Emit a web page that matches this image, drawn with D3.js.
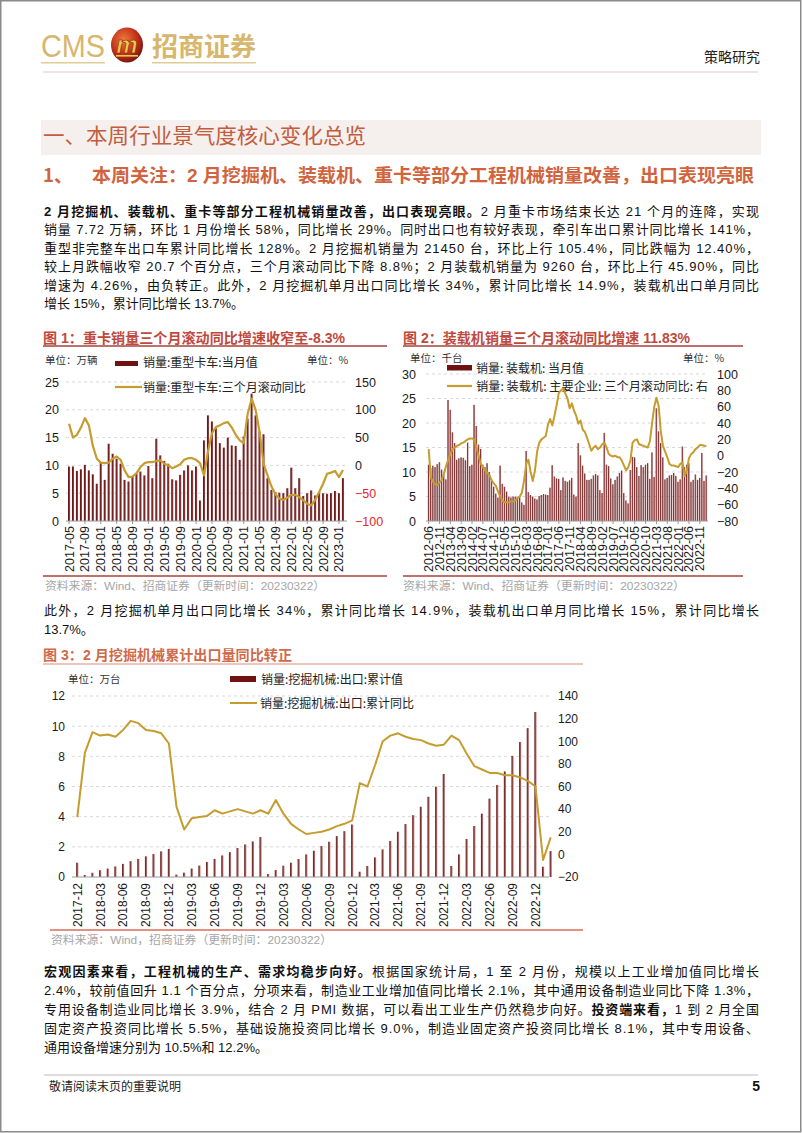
<!DOCTYPE html>
<html><head><meta charset="utf-8">
<script src="https://cdn.jsdelivr.net/npm/d3@7"></script>
<style>
html,body{margin:0;padding:0;background:#fff;}
svg{display:block;}
</style></head><body>
<svg id="page" width="802" height="1133"></svg>
<script>
// ---------------- DATA ----------------
const truckMonths = ["2017-05","2017-06","2017-07","2017-08","2017-09","2017-10","2017-11","2017-12",
"2018-01","2018-02","2018-03","2018-04","2018-05","2018-06","2018-07","2018-08","2018-09","2018-10","2018-11","2018-12",
"2019-01","2019-02","2019-03","2019-04","2019-05","2019-06","2019-07","2019-08","2019-09","2019-10","2019-11","2019-12",
"2020-01","2020-02","2020-03","2020-04","2020-05","2020-06","2020-07","2020-08","2020-09","2020-10","2020-11","2020-12",
"2021-01","2021-02","2021-03","2021-04","2021-05","2021-06","2021-07","2021-08","2021-09","2021-10","2021-11","2021-12",
"2022-01","2022-02","2022-03","2022-04","2022-05","2022-06","2022-07","2022-08","2022-09","2022-10","2022-11","2022-12",
"2023-01","2023-02"];
const truckTicks = ["2017-05","2017-09","2018-01","2018-05","2018-09","2019-01","2019-05","2019-09","2020-01","2020-05","2020-09","2021-01","2021-05","2021-09","2022-01","2022-05","2022-09","2023-01"];
const truckSales = [9.8,9.8,9.0,9.3,10.1,9.1,8.4,6.7,
10.6,7.4,13.9,12.1,11.2,10.3,7.4,7.1,7.9,8.6,8.9,8.2,
9.9,7.7,14.8,11.8,10.8,10.3,7.5,7.3,8.3,9.1,10.0,9.1,
9.8,3.7,14.5,19.0,17.9,16.7,14.0,13.2,15.0,13.6,13.5,11.0,
15.2,18.4,22.9,19.0,16.1,15.6,7.7,5.6,5.2,5.1,5.0,5.9,
9.6,5.9,7.7,4.5,5.0,5.5,4.6,5.2,5.0,4.9,5.0,5.4,
5.0,7.7];
const truckYoY = [75,50,55,68,85,72,35,12,
5,4,5,12,16,10,-9,-21,-20,-14,-3,4,
6,6,8,9,3,0,-5,-2,2,10,13,13,
10,4,-18,25,58,69,72,76,78,68,55,45,
40,93,120,100,60,3,-18,-38,-52,-60,-62,-58,
-53,-53,-57,-63,-69,-72,-62,-48,-33,-15,-13,-10,
-21,-8.3];

const loaderMonths = ["2012-06","2012-07","2012-08","2012-09","2012-10","2012-11","2012-12",
"2013-01","2013-02","2013-03","2013-04","2013-05","2013-06","2013-07","2013-08","2013-09","2013-10","2013-11","2013-12",
"2014-01","2014-02","2014-03","2014-04","2014-05","2014-06","2014-07","2014-08","2014-09","2014-10","2014-11","2014-12",
"2015-01","2015-02","2015-03","2015-04","2015-05","2015-06","2015-07","2015-08","2015-09","2015-10","2015-11","2015-12",
"2016-01","2016-02","2016-03","2016-04","2016-05","2016-06","2016-07","2016-08","2016-09","2016-10","2016-11","2016-12",
"2017-01","2017-02","2017-03","2017-04","2017-05","2017-06","2017-07","2017-08","2017-09","2017-10","2017-11","2017-12",
"2018-01","2018-02","2018-03","2018-04","2018-05","2018-06","2018-07","2018-08","2018-09","2018-10","2018-11","2018-12",
"2019-01","2019-02","2019-03","2019-04","2019-05","2019-06","2019-07","2019-08","2019-09","2019-10","2019-11","2019-12",
"2020-01","2020-02","2020-03","2020-04","2020-05","2020-06","2020-07","2020-08","2020-09","2020-10","2020-11","2020-12",
"2021-01","2021-02","2021-03","2021-04","2021-05","2021-06","2021-07","2021-08","2021-09","2021-10","2021-11","2021-12",
"2022-01","2022-02","2022-03","2022-04","2022-05","2022-06","2022-07","2022-08","2022-09","2022-10","2022-11","2022-12",
"2023-01","2023-02"];
const loaderTicks = ["2012-06","2012-11","2013-04","2013-09","2014-02","2014-07","2014-12","2015-05","2015-10","2016-03","2016-08","2017-01","2017-06","2017-11","2018-04","2018-09","2019-02","2019-07","2019-12","2020-05","2020-10","2021-03","2021-08","2022-01","2022-06","2022-11"];
const loaderSales = [11.5,10.8,11.3,11.0,11.6,12.0,10.5,
9.5,8.5,24.7,22.7,18.1,15.9,12.5,12.8,13.0,12.9,12.4,16.0,
11.2,11.5,23.7,19.4,15.6,14.7,11.5,11.0,11.8,10.0,8.2,7.0,
5.6,4.8,11.3,7.6,7.0,6.0,5.0,4.8,5.0,5.0,4.9,5.1,
3.8,3.3,14.3,5.9,5.3,5.0,4.6,4.4,5.1,5.3,5.5,5.4,
5.3,6.8,11.4,9.1,8.7,8.6,6.3,8.9,8.2,8.0,8.3,8.8,
5.4,5.0,15.9,13.4,11.3,9.7,8.4,8.4,8.6,9.3,9.6,9.3,
6.3,5.7,18.0,11.5,11.2,8.7,7.5,8.4,9.1,9.8,10.3,5.7,
4.2,3.6,10.4,13.1,13.0,11.0,9.2,11.4,11.0,11.5,11.8,8.6,
14.0,9.0,23.0,18.3,15.9,13.0,8.5,8.8,9.3,9.4,9.8,9.2,
8.0,8.5,15.2,11.0,11.5,11.8,8.0,8.4,9.5,8.4,8.8,13.9,
8.2,9.3];
const loaderYoY = [8,-27,-32,-35,-36,-33,-30,
-22,-13,-5,2,8,10,12,13,15,16,18,20,
21,21,20,10,0,-10,-14,-18,-21,-24,-30,-34,
-37,-44,-50,-55,-57,-57,-57,-56,-56,-55,-52,-50,
-45,-30,-10,-5,-20,-31,-18,5,16,20,22,24,
38,45,37,49,62,77,80,82,76,70,58,64,
55,49,39,43,32,29,22,14,6,10,12,8,
10,14,16,10,2,0,-1,0,-2,-2,-6,-12,
-18,-14,-6,16,19,20,14,13,12,11,10,18,
40,60,71,61,30,12,5,-2,-10,-12,-12,-13,
-14,-10,-8,-25,-18,-3,2,4,8,10,13,13,
12,11.83];

const excavMonths = ["2017-12",
"2018-01","2018-02","2018-03","2018-04","2018-05","2018-06","2018-07","2018-08","2018-09","2018-10","2018-11","2018-12",
"2019-01","2019-02","2019-03","2019-04","2019-05","2019-06","2019-07","2019-08","2019-09","2019-10","2019-11","2019-12",
"2020-01","2020-02","2020-03","2020-04","2020-05","2020-06","2020-07","2020-08","2020-09","2020-10","2020-11","2020-12",
"2021-01","2021-02","2021-03","2021-04","2021-05","2021-06","2021-07","2021-08","2021-09","2021-10","2021-11","2021-12",
"2022-01","2022-02","2022-03","2022-04","2022-05","2022-06","2022-07","2022-08","2022-09","2022-10","2022-11","2022-12",
"2023-01","2023-02"];
const excavTicks = ["2017-12","2018-03","2018-06","2018-09","2018-12","2019-03","2019-06","2019-09","2019-12","2020-03","2020-06","2020-09","2020-12","2021-03","2021-06","2021-09","2021-12","2022-03","2022-06","2022-09","2022-12"];
const excavCum = [0.95,
0.13,0.28,0.45,0.56,0.70,0.87,1.05,1.20,1.37,1.52,1.70,1.86,
0.16,0.29,0.56,0.76,1.00,1.20,1.43,1.65,1.92,2.16,2.36,2.65,
0.20,0.46,0.75,0.95,1.19,1.50,1.74,2.05,2.34,2.71,3.04,3.48,
0.35,0.73,1.30,1.83,2.39,3.00,3.51,4.10,4.66,5.32,5.99,6.83,
0.73,1.50,2.52,3.38,4.20,5.20,6.10,7.00,8.03,8.95,9.87,10.94,
0.68,1.72];
const excavYoY = [33,
90,108,105,106,104,110,118,116,110,109,107,98,
42,22,32,33,34,39,36,38,40,38,36,39,
36,48,36,27,22,18,19,20,22,25,27,30,
63,60,79,100,105,107,104,102,101,98,96,97,
105,101,89,78,75,72,72,70,70,68,65,60,
-5,15];

const truckLeftTicks = [0,5,10,15,20,25];
const truckRightTicks = [-100,-50,0,50,100,150];
const loaderLeftTicks = [0,5,10,15,20,25,30];
const loaderRightTicks = [-80,-60,-40,-20,0,20,40,60,80,100];
const excavLeftTicks = [0,2,4,6,8,10,12];
const excavRightTicks = [-20,0,20,40,60,80,100,120,140];

// ---------------- TEXT ----------------
const para1 = [
 {j:true, parts:[["2 月挖掘机、装载机、重卡等部分工程机械销量改善，出口表现亮眼。",1],["2 月重卡市场结束长达 21 个月的连降，实现",0]]},
 {j:true, parts:[["销量 7.72 万辆，环比 1 月份增长 58%，同比增长 29%。同时出口也有较好表现，牵引车出口累计同比增长 141%，",0]]},
 {j:true, parts:[["重型非完整车出口车累计同比增长 128%。2 月挖掘机销量为 21450 台，环比上行 105.4%，同比跌幅为 12.40%，",0]]},
 {j:true, parts:[["较上月跌幅收窄 20.7 个百分点，三个月滚动同比下降 8.8%；2 月装载机销量为 9260 台，环比上行 45.90%，同比",0]]},
 {j:true, parts:[["增速为 4.26%，由负转正。此外，2 月挖掘机单月出口同比增长 34%，累计同比增长 14.9%，装载机出口单月同比",0]]},
 {j:false, parts:[["增长 15%，累计同比增长 13.7%。",0]]}
];
const para2 = [
 {j:true, parts:[["此外，2 月挖掘机单月出口同比增长 34%，累计同比增长 14.9%，装载机出口单月同比增长 15%，累计同比增长",0]]},
 {j:false, parts:[["13.7%。",0]]}
];
const para3 = [
 {j:true, parts:[["宏观因素来看，工程机械的生产、需求均稳步向好。",1],["根据国家统计局，1 至 2 月份，规模以上工业增加值同比增长",0]]},
 {j:true, parts:[["2.4%，较前值回升 1.1 个百分点，分项来看，制造业工业增加值同比增长 2.1%，其中通用设备制造业同比下降 1.3%，",0]]},
 {j:true, parts:[["专用设备制造业同比增长 3.9%，结合 2 月 PMI 数据，可以看出工业生产仍然稳步向好。",0],["投资端来看，",1],["1 到 2 月全国",0]]},
 {j:true, parts:[["固定资产投资同比增长 5.5%，基础设施投资同比增长 9.0%，制造业固定资产投资同比增长 8.1%，其中专用设备、",0]]},
 {j:false, parts:[["通用设备增速分别为 10.5%和 12.2%。",0]]}
];

// ---------------- DRAW ----------------
const FF = "'Liberation Sans','Noto Sans CJK SC',sans-serif";
const CJK = "'Noto Sans CJK SC','Liberation Sans',sans-serif";
const svg = d3.select("#page");
const defs = svg.append("defs");
function grad(id,a,b){
  const g = defs.append("linearGradient").attr("id",id).attr("x1",0).attr("x2",1).attr("y1",0).attr("y2",0);
  g.append("stop").attr("offset","0%").attr("stop-color",a);
  g.append("stop").attr("offset","100%").attr("stop-color",b);
}
grad("barG1","#5a0808","#9a4848");
grad("barG2","#5c0909","#c48686");
grad("barG3","#5c0909","#c48686");
const rg = defs.append("radialGradient").attr("id","logoG").attr("cx","40%").attr("cy","35%").attr("r","70%");
rg.append("stop").attr("offset","0%").attr("stop-color","#f07a3a");
rg.append("stop").attr("offset","60%").attr("stop-color","#c0301a");
rg.append("stop").attr("offset","100%").attr("stop-color","#6e140c");

function T(x,y,s,o={}){
  const t = svg.append("text").attr("x",x).attr("y",y).text(s)
    .attr("font-family",o.ff||FF).attr("font-size",o.fs||12).attr("fill",o.fill||"#111");
  if(o.fw) t.attr("font-weight",o.fw);
  if(o.anchor) t.attr("text-anchor",o.anchor);
  if(o.len) t.attr("textLength",o.len).attr("lengthAdjust","spacingAndGlyphs");
  return t;
}

// page frame
svg.append("rect").attr("x",0.75).attr("y",0.75).attr("width",800).attr("height",1131).attr("fill","none").attr("stroke","#8a8a8a").attr("stroke-width",1.5);

// header
T(41,57,"CMS",{fs:32,fill:"#d8b66c",len:64});
svg.append("ellipse").attr("cx",127).attr("cy",45).attr("rx",16).attr("ry",17.5).attr("fill","url(#logoG)");
T(127,53,"m",{fs:24,fw:"bold",fill:"#f2c64a",anchor:"middle"}).attr("font-style","italic").attr("stroke","#7a1a0a").attr("stroke-width",0.6);
svg.append("rect").attr("x",116).attr("y",55).attr("width",22).attr("height",1.6).attr("fill","#f2c64a");
T(152,56,"招商证券",{ff:CJK,fs:26,fw:"bold",fill:"#d8b66c",len:104});
svg.append("rect").attr("x",41).attr("y",62).attr("width",64).attr("height",1.5).attr("fill","#e2cb95");
svg.append("rect").attr("x",152).attr("y",62).attr("width",104).attr("height",1.5).attr("fill","#e2cb95");
T(760,62,"策略研究",{ff:CJK,fs:14,anchor:"end",fill:"#222"});
svg.append("line").attr("x1",43).attr("x2",758).attr("y1",72).attr("y2",72).attr("stroke","#dccaca").attr("stroke-width",1.2);

// section heading
svg.append("rect").attr("x",41).attr("y",120).attr("width",720).attr("height",35).attr("fill","#f5efed");
T(43,143,"一、本周行业景气度核心变化总览",{ff:CJK,fs:21,fill:"#c25d3e",len:323});
T(43,182,"1、",{ff:CJK,fs:18.5,fw:"bold",fill:"#d0643e"});
T(92,182,"本周关注：2 月挖掘机、装载机、重卡等部分工程机械销量改善，出口表现亮眼",{fs:18.5,fw:"bold",fill:"#d0643e",len:662});

function para(lines,y0,lh){
  lines.forEach((ln,i)=>{
    const t = svg.append("text").attr("x",44).attr("y",y0+i*lh).attr("font-size",13).attr("fill","#111").attr("font-family",FF);
    ln.parts.forEach(p=>t.append("tspan").attr("font-weight",p[1]?"bold":"normal").text(p[0]));
    if(ln.j) t.attr("textLength",715).attr("lengthAdjust","spacing");
  });
}
para(para1,215.5,18.5);
para(para2,615,19);
para(para3,976,19);

// chart helper
function combo(c){
  const g = svg.append("g");
  const months = c.months;
  const x = d3.scaleBand().domain(months).range(c.xr).paddingInner(c.pad);
  const yL = d3.scaleLinear().domain(c.ld).range([c.yb,c.yt]);
  const yR = d3.scaleLinear().domain(c.rd).range([c.yb,c.yt]);
  g.selectAll("line.grid").data(c.lticks.filter(v=>v!==c.ld[0])).join("line").attr("class","grid")
    .attr("x1",c.gx[0]).attr("x2",c.gx[1]).attr("y1",d=>yL(d)).attr("y2",d=>yL(d))
    .attr("stroke","#cfcfcf").attr("stroke-width",0.8).attr("stroke-dasharray","3,3");
  const rows = months.map((m,i)=>({m,b:c.bars[i],l:c.line[i]}));
  g.selectAll("rect.bar").data(rows).join("rect").attr("class","bar")
    .attr("x",d=>x(d.m)).attr("width",x.bandwidth())
    .attr("y",d=>yL(d.b)).attr("height",d=>yL(c.ld[0])-yL(d.b)).attr("fill",`url(#${c.grad})`);
  const xa = g.append("g").attr("transform",`translate(0,${c.yb})`)
    .call(d3.axisBottom(x).tickValues(c.xticks).tickSize(c.tick).tickSizeOuter(0));
  xa.select(".domain").attr("stroke","#9a9a9a").attr("d",`M${c.gx[0]},0H${c.gx[1]}`);
  xa.selectAll(".tick line").attr("stroke","#9a9a9a");
  xa.selectAll("text").attr("transform","rotate(-90)").attr("text-anchor","end")
    .attr("x",-c.labOff).attr("y",0).attr("dy","0.36em")
    .attr("font-size",c.xfs).attr("font-family",FF).attr("fill","#1a1a1a");
  const la = g.append("g").attr("transform",`translate(${c.lx},0)`)
    .call(d3.axisLeft(yL).tickValues(c.lticks).tickSize(0).tickPadding(0));
  la.select(".domain").remove();
  la.selectAll("text").attr("font-size",c.fs).attr("font-family",FF).attr("fill","#1a1a1a");
  const ra = g.append("g").attr("transform",`translate(${c.rx},0)`)
    .call(d3.axisRight(yR).tickValues(c.rticks).tickSize(0).tickPadding(0));
  ra.select(".domain").remove();
  ra.selectAll("text").attr("font-size",c.fs).attr("font-family",FF)
    .attr("fill",d=>(c.negRed && d<0)?"#e8262a":"#1a1a1a");
  g.append("path").datum(rows).attr("fill","none").attr("stroke","#c59c2e").attr("stroke-width",c.lw)
    .attr("stroke-linejoin","round")
    .attr("d",d3.line().x(d=>x(d.m)+x.bandwidth()/2).y(d=>yR(d.l)));
  return g;
}

// ---- Figure 1 ----
T(43,342.5,"图 1：重卡销量三个月滚动同比增速收窄至-8.3%",{fs:14,fw:"bold",fill:"#c0493e",len:302});
svg.append("line").attr("x1",43).attr("x2",387).attr("y1",346).attr("y2",346).attr("stroke","#a8403a").attr("stroke-width",1.5);
T(45,364,"单位：万辆",{ff:CJK,fs:10.5,fill:"#333"});
T(307,364,"单位：%",{ff:CJK,fs:10.5,fill:"#333"});
svg.append("rect").attr("x",115).attr("y",361).attr("width",23).attr("height",5).attr("fill","#6e1212");
T(143,367,"销量:重型卡车:当月值",{ff:CJK,fs:12,fill:"#222"});
svg.append("line").attr("x1",115).attr("x2",142).attr("y1",387).attr("y2",387).attr("stroke","#c59c2e").attr("stroke-width",2.2);
T(143,391.5,"销量:重型卡车:三个月滚动同比",{ff:CJK,fs:12,fill:"#222"});
combo({months:truckMonths,bars:truckSales,line:truckYoY,xticks:truckTicks,grad:"barG1",
  xr:[68,344],pad:0.48,yb:521,yt:382,ld:[0,25],rd:[-100,150],
  lticks:truckLeftTicks,rticks:truckRightTicks,gx:[66,347],lx:59,rx:355,
  fs:12.5,xfs:12.5,labOff:5,tick:3,negRed:true,lw:2.2});
svg.append("line").attr("x1",43).attr("x2",387).attr("y1",576).attr("y2",576).attr("stroke","#a8403a").attr("stroke-width",1.5);
T(45,589.5,"资料来源：Wind、招商证券（更新时间：20230322）",{fs:11.5,fill:"#a6a6a6",len:280});

// ---- Figure 2 ----
T(403,342.5,"图 2：装载机销量三个月滚动同比增速 11.83%",{fs:14,fw:"bold",fill:"#c0493e",len:287});
svg.append("line").attr("x1",403).attr("x2",743).attr("y1",346).attr("y2",346).attr("stroke","#a8403a").attr("stroke-width",1.5);
T(410,362,"单位：千台",{ff:CJK,fs:10.5,fill:"#333"});
T(683,362,"单位：%",{ff:CJK,fs:10.5,fill:"#333"});
svg.append("rect").attr("x",447).attr("y",365).attr("width",25).attr("height",5.5).attr("fill","#6e1212");
T(476,372.5,"销量: 装载机: 当月值",{ff:CJK,fs:12,fill:"#222"});
svg.append("line").attr("x1",447).attr("x2",472).attr("y1",386).attr("y2",386).attr("stroke","#c59c2e").attr("stroke-width",2.2);
T(476,390.5,"销量: 装载机: 主要企业: 三个月滚动同比: 右",{ff:CJK,fs:12,fill:"#222",len:232});
combo({months:loaderMonths,bars:loaderSales,line:loaderYoY,xticks:loaderTicks,grad:"barG2",
  xr:[427.9,707.1],pad:0.3,yb:521,yt:374,ld:[0,30],rd:[-80,100],
  lticks:loaderLeftTicks,rticks:loaderRightTicks,gx:[426,708],lx:416,rx:717,
  fs:12.5,xfs:12.5,labOff:5,tick:3,negRed:false,lw:2});
svg.append("line").attr("x1",403).attr("x2",743).attr("y1",576).attr("y2",576).attr("stroke","#a8403a").attr("stroke-width",1.5);
T(403,589.5,"资料来源：Wind、招商证券（更新时间：20230322）",{fs:11.5,fill:"#a6a6a6",len:282});

// ---- Figure 3 ----
T(43,660,"图 3：2 月挖掘机械累计出口量同比转正",{fs:14,fw:"bold",fill:"#d06a4a",len:249});
svg.append("line").attr("x1",43).attr("x2",583).attr("y1",664).attr("y2",664).attr("stroke","#e4b4a4").attr("stroke-width",1.5);
T(68,683,"单位：万台",{ff:CJK,fs:10.5,fill:"#333"});
svg.append("rect").attr("x",230).attr("y",676).attr("width",26).attr("height",6).attr("fill","#6e1212");
T(261,683.5,"销量:挖掘机械:出口:累计值",{ff:CJK,fs:12,fill:"#222"});
svg.append("line").attr("x1",230).attr("x2",257).attr("y1",703).attr("y2",703).attr("stroke","#c59c2e").attr("stroke-width",2);
T(260,707.5,"销量:挖掘机械:出口:累计同比",{ff:CJK,fs:12,fill:"#222"});
combo({months:excavMonths,bars:excavCum,line:excavYoY,xticks:excavTicks,grad:"barG3",
  xr:[76.2,551.8],pad:0.72,yb:877,yt:696,ld:[0,12],rd:[-20,140],
  lticks:excavLeftTicks,rticks:excavRightTicks,gx:[72,549],lx:65,rx:558,
  fs:12,xfs:12,labOff:6,tick:0,negRed:false,lw:2});
svg.append("line").attr("x1",50).attr("x2",583).attr("y1",930).attr("y2",930).attr("stroke","#e06a58").attr("stroke-width",1.3);
T(51,943.5,"资料来源：Wind，招商证券（更新时间：20230322）",{fs:11.5,fill:"#a6a6a6",len:281});

// footer
svg.append("line").attr("x1",44).attr("x2",758).attr("y1",1075).attr("y2",1075).attr("stroke","#d2d2d2").attr("stroke-width",1.5);
T(49,1090.5,"敬请阅读末页的重要说明",{ff:CJK,fs:12,fill:"#222"});
T(760,1091,"5",{fs:14,fw:"bold",anchor:"end",fill:"#111"});
</script>
</body></html>
